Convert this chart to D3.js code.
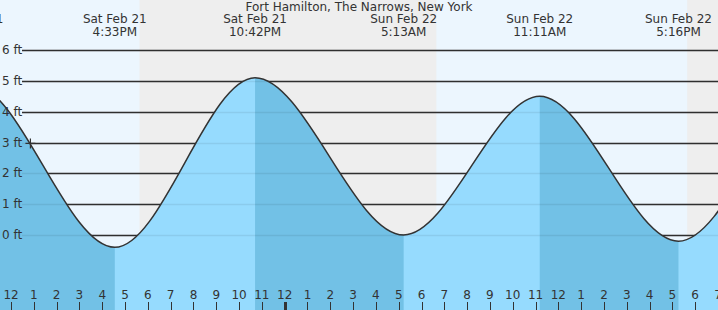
<!DOCTYPE html>
<html lang="en">
<head>
<meta charset="utf-8">
<title>Fort Hamilton tide</title>
<script src="https://cdn.jsdelivr.net/npm/d3@7"></script>
<style>
body { margin: 0; background: #fff; }
text { font-family: "DejaVu Sans", sans-serif; fill: #333; }
</style>
</head>
<body>
<script>
// tide extremes (times local, heights in ft) - first/last are off screen
var tideTimes = ["2026-02-21T04:05", "2026-02-21T10:16", "2026-02-21T16:33", "2026-02-21T22:42",
  "2026-02-22T05:13", "2026-02-22T11:11", "2026-02-22T17:16", "2026-02-22T23:30", "2026-02-23T05:50"];
var tideHeights = [0.1, 4.9, -0.4, 5.1, 0.0, 4.5, -0.2, 4.9, 0.0];
var eventDays = ["", "Sat Feb 21", "Sat Feb 21", "Sat Feb 21", "Sun Feb 22", "Sun Feb 22", "Sun Feb 22", "", ""];
var eventClock = ["", "10:16AM", "4:33PM", "10:42PM", "5:13AM", "11:11AM", "5:16PM", "", ""];

var nightStarts = ["2026-02-21T17:38", "2026-02-22T17:39"];
var nightEnds = ["2026-02-22T06:39", "2026-02-23T06:38"];

var feetTicks = [0, 1, 2, 3, 4, 5, 6];
var nowTime = "2026-02-21T12:51", nowHeight = 2.97;
var title = "Fort Hamilton, The Narrows, New York";

var W = 718, H = 310;
var parse = d3.utcParse("%Y-%m-%dT%H:%M");

var x = d3.scaleUtc()
  .domain([parse("2026-02-21T11:31"), parse("2026-02-22T19:00")])
  .range([0, W]);
var y = d3.scaleLinear().domain([0, 6]).range([235, 50]);

var pts = tideTimes.map(function(t, i) { return {t: parse(t), h: tideHeights[i]}; });

var svg = d3.select("body").append("svg").attr("width", W).attr("height", H);

// day / night
svg.append("rect").attr("width", W).attr("height", H).attr("fill", "#ecf6fe");
svg.selectAll(".night").data(nightStarts).enter().append("rect")
  .attr("x", d => x(parse(d)))
  .attr("width", (d, i) => x(parse(nightEnds[i])) - x(parse(d)))
  .attr("y", 0).attr("height", H).attr("fill", "#eeeeee");

// grid
svg.selectAll(".grid").data(feetTicks).enter().append("line")
  .attr("x1", 22).attr("x2", W)
  .attr("y1", d => Math.round(y(d)) + 0.5).attr("y2", d => Math.round(y(d)) + 0.5)
  .attr("stroke", "#333").attr("stroke-width", 1.5);

var area = d3.area().curve(d3.curveMonotoneX)
  .x(d => x(d.t)).y0(H).y1(d => y(d.h));
var line = d3.line().curve(d3.curveMonotoneX)
  .x(d => x(d.t)).y(d => y(d.h));

// falling tide intervals (high -> next low)
var falling = [];
for (var i = 0; i < pts.length - 1; i++) {
  if (pts[i].h > pts[i + 1].h) falling.push([pts[i].t, pts[i + 1].t]);
}
var clip = svg.append("clipPath").attr("id", "fall");
clip.selectAll("rect").data(falling).enter().append("rect")
  .attr("x", d => x(d[0])).attr("width", d => x(d[1]) - x(d[0]))
  .attr("y", 0).attr("height", H);

svg.append("path").datum(pts).attr("d", area).attr("fill", "#96dbfe");
svg.append("path").datum(pts).attr("d", area).attr("fill", "#72c1e6")
  .attr("clip-path", "url(#fall)");

svg.selectAll(".grid2").data(feetTicks).enter().append("line")
  .attr("x1", 22).attr("x2", W)
  .attr("y1", d => Math.round(y(d)) + 0.5).attr("y2", d => Math.round(y(d)) + 0.5)
  .attr("stroke", "#000").attr("stroke-opacity", 0.07).attr("stroke-width", 1.5);

svg.append("path").datum(pts).attr("d", line)
  .attr("fill", "none").attr("stroke", "#333").attr("stroke-width", 1.5);

// y labels
svg.selectAll(".ylab").data(feetTicks).enter().append("text")
  .attr("x", 2).attr("y", d => y(d) + 4)
  .style("font-size", "12px").text(d => d + " ft");

// current time marker
var nx = x(parse(nowTime)), ny = y(nowHeight);
svg.append("path")
  .attr("d", "M" + (nx - 5) + "," + ny + "H" + (nx + 5) + "M" + nx + "," + (ny - 5) + "V" + (ny + 5))
  .attr("stroke", "#333").attr("stroke-width", 1.2);

// title and event labels
svg.append("text").attr("x", W / 2).attr("y", 11).attr("text-anchor", "middle")
  .style("font-size", "12px").text(title);
var ev = pts.map((d, i) => ({t: d.t, day: eventDays[i], clock: eventClock[i]})).filter(d => d.day);
var evg = svg.selectAll(".ev").data(ev).enter().append("g")
  .attr("transform", d => "translate(" + x(d.t) + ",0)");
evg.append("text").attr("y", 23).attr("text-anchor", "middle").style("font-size", "12px").text(d => d.day);
evg.append("text").attr("y", 36).attr("text-anchor", "middle").style("font-size", "12px").text(d => d.clock);

// hour axis
var hours = x.ticks(d3.utcHour.every(1));
var fmt = d3.utcFormat("%-I");
svg.selectAll(".tick").data(hours).enter().append("line")
  .attr("x1", d => Math.round(x(d)) + 0.5).attr("x2", d => Math.round(x(d)) + 0.5)
  .attr("y1", 302).attr("y2", H)
  .attr("stroke", "#333")
  .attr("stroke-width", d => d.getUTCHours() === 0 ? 3 : 1);
svg.selectAll(".hlab").data(hours).enter().append("text")
  .attr("x", d => x(d)).attr("y", 299).attr("text-anchor", "middle")
  .style("font-size", "12px").text(d => fmt(d));
</script>
</body>
</html>
